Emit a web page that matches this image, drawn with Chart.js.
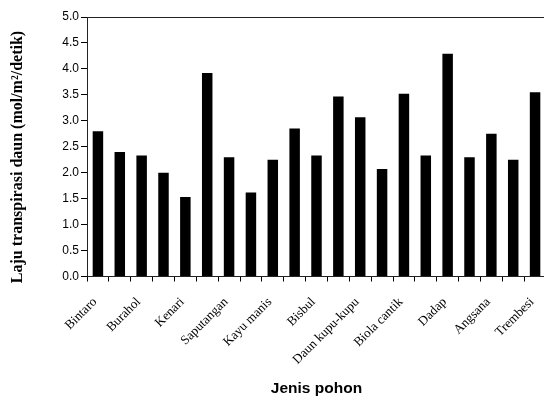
<!DOCTYPE html>
<html>
<head>
<meta charset="utf-8">
<script src="https://cdn.jsdelivr.net/npm/chart.js@4/dist/chart.umd.min.js"></script>
<style>
  html, body { margin: 0; padding: 0; background: #fff; overflow: hidden; }
  #wrap { width: 548px; height: 398px; }
</style>
</head>
<body>
<div id="wrap"><canvas id="c" width="548" height="398"></canvas></div>
<script>
// Tree species (only every other one carries a printed name)
const categories = [
  'Bintaro', '', 'Burahol', '', 'Kenari', '', 'Saputangan', '', 'Kayu manis', '',
  'Bisbul', '', 'Daun kupu-kupu', '', 'Biola cantik', '', 'Dadap', '', 'Angsana', '',
  'Trembesi'
];
// Leaf transpiration rate (mol/m²/detik)
const transpiration = [
  2.80, 2.40, 2.33, 2.00, 1.53, 3.92, 2.30, 1.62, 2.25, 2.85,
  2.33, 3.47, 3.07, 2.07, 3.52, 2.33, 4.29, 2.30, 2.75, 2.25,
  3.55
];
const yTicks = [0, 0.5, 1, 1.5, 2, 2.5, 3, 3.5, 4, 4.5, 5];
const yTitle = 'Laju transpirasi daun (mol/m²/detik)';

// Frame line along the top of the plot, plus the vertical value-axis caption
const decorations = {
  id: 'decorations',
  afterDraw(chart) {
    const { ctx, chartArea: a } = chart;
    ctx.save();
    ctx.strokeStyle = '#222';
    ctx.lineWidth = 1;
    ctx.beginPath();
    ctx.moveTo(a.left, Math.round(a.top) + 0.5);
    ctx.lineTo(a.right, Math.round(a.top) + 0.5);
    ctx.stroke();

    ctx.translate(18, 157);
    ctx.rotate(-Math.PI / 2);
    ctx.fillStyle = '#000';
    ctx.font = 'bold 16px "Liberation Serif", "Times New Roman", serif';
    ctx.textAlign = 'center';
    ctx.textBaseline = 'middle';
    ctx.fillText(yTitle, 0, 0);
    ctx.restore();
  }
};

new Chart(document.getElementById('c'), {
  type: 'bar',
  data: {
    labels: categories,
    datasets: [{
      data: transpiration,
      backgroundColor: '#000',
      borderWidth: 0,
      categoryPercentage: 1,
      barPercentage: 0.48
    }]
  },
  options: {
    responsive: false,
    animation: false,
    layout: { padding: { top: 17, right: 2, bottom: 0, left: 0 } },
    plugins: { legend: { display: false }, tooltip: { enabled: false } },
    scales: {
      x: {
        grid: { drawOnChartArea: false, tickLength: 5, color: '#000', offset: true },
        border: { color: '#222', width: 1 },
        ticks: {
          autoSkip: false,
          minRotation: 45,
          maxRotation: 45,
          color: '#000',
          padding: 13,
          labelOffset: -3,
          font: { family: '"Liberation Serif", "Times New Roman", serif', size: 13 }
        },
        title: {
          display: true,
          text: 'Jenis pohon',
          color: '#000',
          padding: { top: 0, bottom: 0 },
          font: { family: '"Liberation Sans", Arial, sans-serif', size: 15.5, weight: 'bold' }
        },
        afterFit(scale) {
          scale.height = 121.5;
          scale.paddingLeft = 0;
          scale.paddingRight = 0;
        }
      },
      y: {
        min: 0,
        max: 5,
        afterBuildTicks(scale) { scale.ticks = yTicks.map(v => ({ value: v })); },
        grid: { drawOnChartArea: false, tickLength: 6, color: '#000' },
        border: { color: '#222', width: 1 },
        ticks: {
          color: '#000',
          padding: 2,
          font: { family: '"Liberation Sans", Arial, sans-serif', size: 12 },
          callback: v => Number(v).toFixed(1)
        },
        afterFit(scale) {
          scale.width = 87;
          scale.paddingTop = 0;
          scale.paddingBottom = 0;
        }
      }
    }
  },
  plugins: [decorations]
});
</script>
</body>
</html>
